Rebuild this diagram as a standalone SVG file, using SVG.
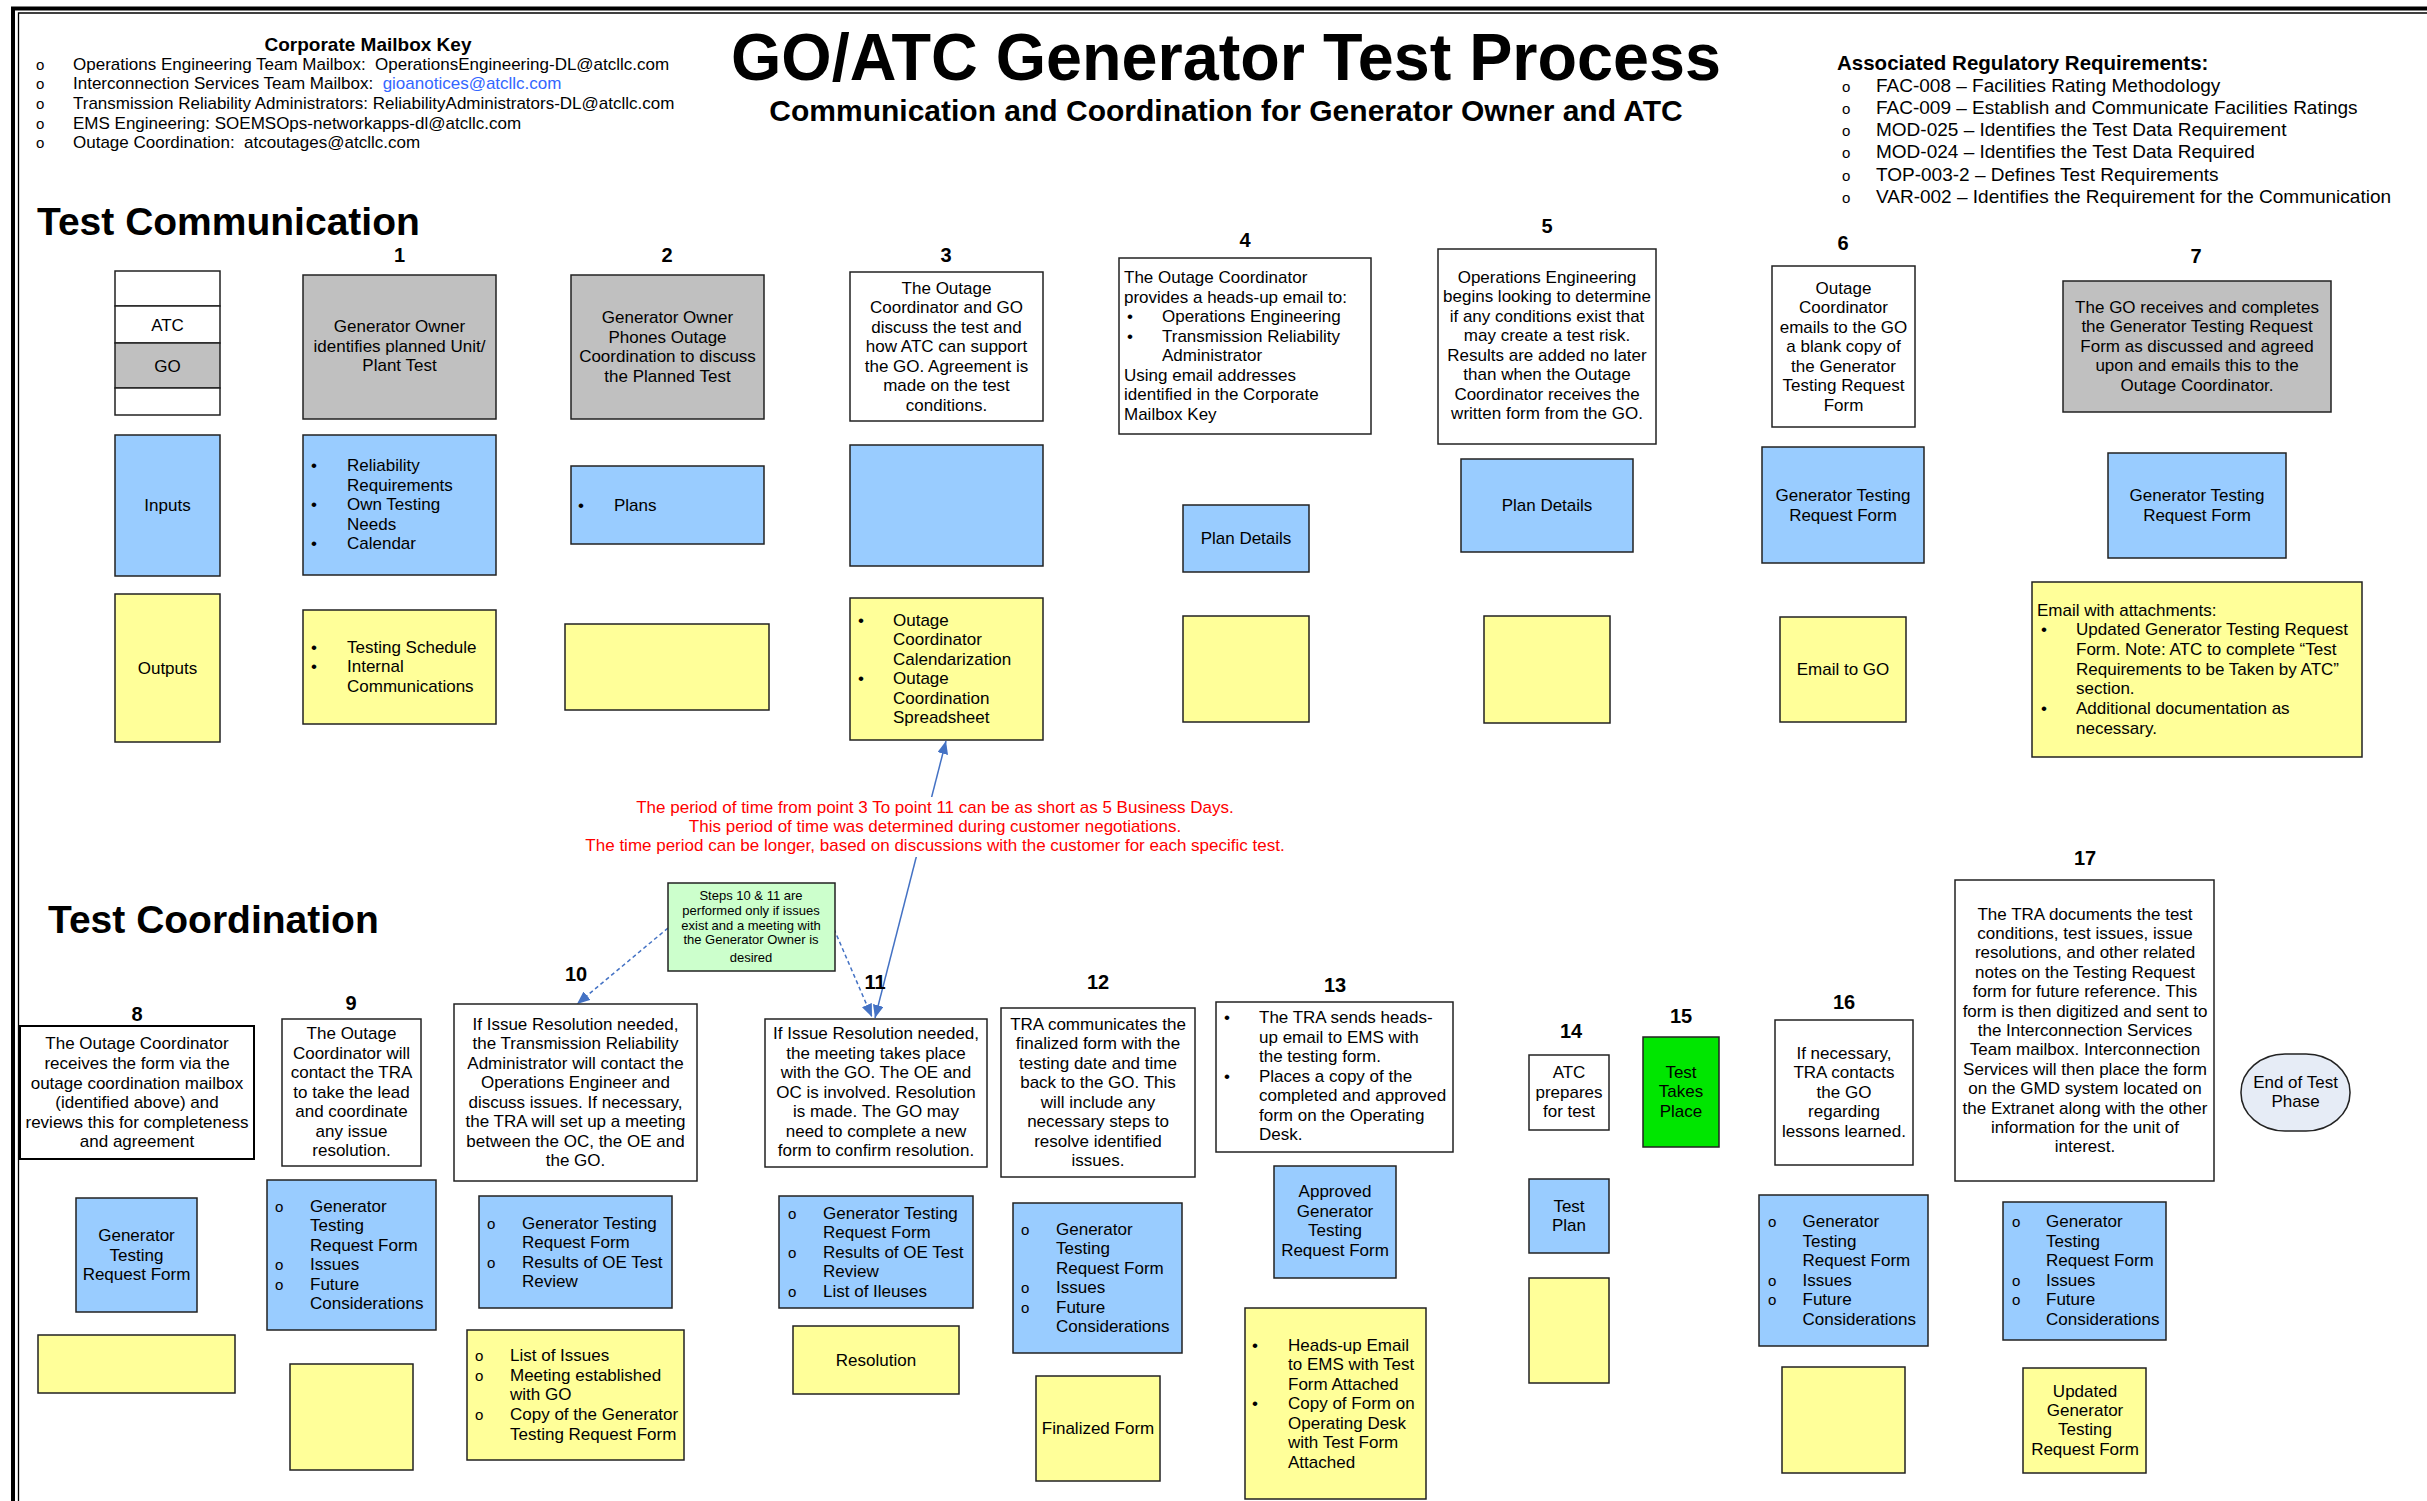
<svg xmlns="http://www.w3.org/2000/svg" width="2427" height="1501" viewBox="0 0 2427 1501">
<defs>
<style>
text{font-family:"Liberation Sans",Arial,Helvetica,sans-serif;font-size:17px;fill:#000}
.c{text-anchor:middle}
.n{font-weight:bold;font-size:20px;text-anchor:middle}
.o{font-size:15px}
.bx{stroke:#222;stroke-width:1.5}
.w{fill:#fff}.g{fill:#c0c0c0}.b{fill:#99ccff}.y{fill:#ffff99}
.h{font-weight:bold}
.red{fill:#ff0000}
.ln{stroke:#4472c4;stroke-width:1.5;fill:none}
</style>
<marker id="ah" viewBox="0 0 12 10" refX="12" refY="5" markerWidth="13" markerHeight="11" markerUnits="userSpaceOnUse" orient="auto-start-reverse"><path d="M0,0L12,5L0,10z" fill="#4472c4"/></marker>
</defs>
<rect width="2427" height="1501" fill="#fff"/>
<g id="frame" fill="none" stroke="#000">
<path d="M13,1501V8.5H2427" stroke-width="4"/>
<path d="M18.5,1501V13H2427" stroke-width="1.3"/>
</g>
<g id="header">
<text class="h c" x="368" y="51" font-size="19" style="font-size:19px">Corporate Mailbox Key</text>
<g class="o"><text class="o" x="36" y="69.5">o</text><text class="o" x="36" y="89.2">o</text><text class="o" x="36" y="108.9">o</text><text class="o" x="36" y="128.6">o</text><text class="o" x="36" y="148.3">o</text></g>
<text x="73" y="69.5" xml:space="preserve">Operations Engineering Team Mailbox:  OperationsEngineering-DL@atcllc.com</text>
<text x="73" y="89.2" xml:space="preserve">Interconnection Services Team Mailbox:  <tspan fill="#3366ff">gioanotices@atcllc.com</tspan></text>
<text x="73" y="108.9">Transmission Reliability Administrators: ReliabilityAdministrators-DL@atcllc.com</text>
<text x="73" y="128.6">EMS Engineering: SOEMSOps-networkapps-dl@atcllc.com</text>
<text x="73" y="148.3" xml:space="preserve">Outage Coordination:  atcoutages@atcllc.com</text>
<text class="h c" x="1226" y="80" style="font-size:66px" textLength="990" lengthAdjust="spacingAndGlyphs">GO/ATC Generator Test Process</text>
<text class="h c" x="1226" y="121" style="font-size:30px">Communication and Coordination for Generator Owner and ATC</text>
<text class="h" x="1837" y="69.5" style="font-size:20.5px">Associated Regulatory Requirements:</text>
<text class="o" x="1842" y="91.5">o</text><text class="o" x="1842" y="113.8">o</text><text class="o" x="1842" y="136.1">o</text><text class="o" x="1842" y="158.4">o</text><text class="o" x="1842" y="180.7">o</text><text class="o" x="1842" y="203">o</text>
<g style="font-size:19px">
<text x="1876" y="91.5" style="font-size:19px">FAC-008 – Facilities Rating Methodology</text>
<text x="1876" y="113.8" style="font-size:19px">FAC-009 – Establish and Communicate Facilities Ratings</text>
<text x="1876" y="136.1" style="font-size:19px">MOD-025 – Identifies the Test Data Requirement</text>
<text x="1876" y="158.4" style="font-size:19px">MOD-024 – Identifies the Test Data Required</text>
<text x="1876" y="180.7" style="font-size:19px">TOP-003-2 – Defines Test Requirements</text>
<text x="1876" y="203" style="font-size:19px">VAR-002 – Identifies the Requirement for the Communication</text>
</g>
<text class="h" x="37" y="235" style="font-size:39px">Test Communication</text>
<text class="h" x="48" y="933" style="font-size:39px">Test Coordination</text>
</g>

<g id="legend">
<rect class="bx w" x="115" y="271" width="105" height="35"/>
<rect class="bx w" x="115" y="306" width="105" height="37"/>
<rect class="bx g" x="115" y="343" width="105" height="45"/>
<rect class="bx w" x="115" y="388" width="105" height="27"/>
<text class="c" x="167.5" y="330.5">ATC</text>
<text class="c" x="167.5" y="371.5">GO</text>
</g>
<g id="inputs"><rect class="bx b" x="115" y="435" width="105" height="141"/><text class="c" x="167.5" y="511">Inputs</text></g>
<g id="outputs"><rect class="bx y" x="115" y="594" width="105" height="148"/><text class="c" x="167.5" y="674">Outputs</text></g>

<g id="step1">
<text class="n" x="399.5" y="262">1</text>
<rect class="bx g" x="303" y="275" width="193" height="144"/>
<text class="c"><tspan x="399.5" y="332">Generator Owner</tspan><tspan x="399.5" y="351.5">identifies planned Unit/</tspan><tspan x="399.5" y="371">Plant Test</tspan></text>
</g>
<g id="step1-in">
<rect class="bx b" x="303" y="435" width="193" height="140"/>
<text><tspan x="311" y="471">•</tspan><tspan x="347" y="471">Reliability</tspan><tspan x="347" y="490.5">Requirements</tspan><tspan x="311" y="510">•</tspan><tspan x="347" y="510">Own Testing</tspan><tspan x="347" y="529.5">Needs</tspan><tspan x="311" y="549">•</tspan><tspan x="347" y="549">Calendar</tspan></text>
</g>
<g id="step1-out">
<rect class="bx y" x="303" y="610" width="193" height="114"/>
<text><tspan x="311" y="652.5">•</tspan><tspan x="347" y="652.5">Testing Schedule</tspan><tspan x="311" y="672">•</tspan><tspan x="347" y="672">Internal</tspan><tspan x="347" y="691.5">Communications</tspan></text>
</g>

<g id="step2">
<text class="n" x="667" y="262">2</text>
<rect class="bx g" x="571" y="275" width="193" height="144"/>
<text class="c"><tspan x="667.5" y="323">Generator Owner</tspan><tspan x="667.5" y="342.5">Phones Outage</tspan><tspan x="667.5" y="362">Coordination to discuss</tspan><tspan x="667.5" y="381.5">the Planned Test</tspan></text>
</g>
<g id="step2-in"><rect class="bx b" x="571" y="466" width="193" height="78"/><text><tspan x="578" y="511">•</tspan><tspan x="614" y="511">Plans</tspan></text></g>
<g id="step2-out"><rect class="bx y" x="565" y="624" width="204" height="86"/></g>

<g id="step3">
<text class="n" x="946" y="262">3</text>
<rect class="bx w" x="850" y="272" width="193" height="149"/>
<text class="c"><tspan x="946.5" y="293.5">The Outage</tspan><tspan x="946.5" y="313">Coordinator and GO</tspan><tspan x="946.5" y="332.5">discuss the test and</tspan><tspan x="946.5" y="352">how ATC can support</tspan><tspan x="946.5" y="371.5">the GO.  Agreement is</tspan><tspan x="946.5" y="391">made on the test</tspan><tspan x="946.5" y="410.5">conditions.</tspan></text>
</g>
<g id="step3-in"><rect class="bx b" x="850" y="445" width="193" height="121"/></g>
<g id="step3-out">
<rect class="bx y" x="850" y="598" width="193" height="142"/>
<text><tspan x="858" y="625.5">•</tspan><tspan x="893" y="625.5">Outage</tspan><tspan x="893" y="645">Coordinator</tspan><tspan x="893" y="664.5">Calendarization</tspan><tspan x="858" y="684">•</tspan><tspan x="893" y="684">Outage</tspan><tspan x="893" y="703.5">Coordination</tspan><tspan x="893" y="723">Spreadsheet</tspan></text>
</g>

<g id="step4">
<text class="n" x="1245" y="247">4</text>
<rect class="bx w" x="1119" y="258" width="252" height="176"/>
<text><tspan x="1124" y="283">The Outage Coordinator</tspan><tspan x="1124" y="302.5">provides a heads-up email to:</tspan><tspan x="1127" y="322">•</tspan><tspan x="1162" y="322">Operations Engineering</tspan><tspan x="1127" y="341.5">•</tspan><tspan x="1162" y="341.5">Transmission Reliability</tspan><tspan x="1162" y="361">Administrator</tspan><tspan x="1124" y="380.5">Using email addresses</tspan><tspan x="1124" y="400">identified in the Corporate</tspan><tspan x="1124" y="419.5">Mailbox Key</tspan></text>
</g>
<g id="step4-in"><rect class="bx b" x="1183" y="505" width="126" height="67"/><text class="c" x="1246" y="544">Plan Details</text></g>
<g id="step4-out"><rect class="bx y" x="1183" y="616" width="126" height="106"/></g>

<g id="step5">
<text class="n" x="1547" y="233">5</text>
<rect class="bx w" x="1438" y="249" width="218" height="195"/>
<text class="c"><tspan x="1547" y="282.5">Operations Engineering</tspan><tspan x="1547" y="302">begins looking to determine</tspan><tspan x="1547" y="321.5">if any conditions exist that</tspan><tspan x="1547" y="341">may create a test risk.</tspan><tspan x="1547" y="360.5">Results are added no later</tspan><tspan x="1547" y="380">than when the Outage</tspan><tspan x="1547" y="399.5">Coordinator receives the</tspan><tspan x="1547" y="419">written form from the GO.</tspan></text>
</g>
<g id="step5-in"><rect class="bx b" x="1461" y="459" width="172" height="93"/><text class="c" x="1547" y="511">Plan Details</text></g>
<g id="step5-out"><rect class="bx y" x="1484" y="616" width="126" height="107"/></g>

<g id="step6">
<text class="n" x="1843" y="250">6</text>
<rect class="bx w" x="1772" y="266" width="143" height="161"/>
<text class="c"><tspan x="1843.5" y="293.5">Outage</tspan><tspan x="1843.5" y="313">Coordinator</tspan><tspan x="1843.5" y="332.5">emails to the GO</tspan><tspan x="1843.5" y="352">a blank copy of</tspan><tspan x="1843.5" y="371.5">the Generator</tspan><tspan x="1843.5" y="391">Testing Request</tspan><tspan x="1843.5" y="410.5">Form</tspan></text>
</g>
<g id="step6-in"><rect class="bx b" x="1762" y="447" width="162" height="116"/><text class="c"><tspan x="1843" y="500.5">Generator Testing</tspan><tspan x="1843" y="520.5">Request Form</tspan></text></g>
<g id="step6-out"><rect class="bx y" x="1780" y="617" width="126" height="105"/><text class="c" x="1843" y="674.5">Email to GO</text></g>

<g id="step7">
<text class="n" x="2196" y="263">7</text>
<rect class="bx g" x="2063" y="281" width="268" height="131"/>
<text class="c"><tspan x="2197" y="312.5">The GO receives and completes</tspan><tspan x="2197" y="332">the Generator Testing Request</tspan><tspan x="2197" y="351.5">Form as discussed and agreed</tspan><tspan x="2197" y="371">upon and emails this to the</tspan><tspan x="2197" y="390.5">Outage Coordinator.</tspan></text>
</g>
<g id="step7-in"><rect class="bx b" x="2108" y="453" width="178" height="105"/><text class="c"><tspan x="2197" y="500.5">Generator Testing</tspan><tspan x="2197" y="520.5">Request Form</tspan></text></g>
<g id="step7-out">
<rect class="bx y" x="2032" y="582" width="330" height="175"/>
<text><tspan x="2037" y="615.5">Email with attachments:</tspan><tspan x="2041" y="635">•</tspan><tspan x="2076" y="635">Updated Generator Testing Request</tspan><tspan x="2076" y="655">Form.  Note: ATC to complete “Test</tspan><tspan x="2076" y="674.5">Requirements to be Taken by ATC”</tspan><tspan x="2076" y="694">section.</tspan><tspan x="2041" y="713.5">•</tspan><tspan x="2076" y="713.5">Additional documentation as</tspan><tspan x="2076" y="733.5">necessary.</tspan></text>
</g>

<g id="connectors">
<line class="ln" x1="946" y1="741" x2="875" y2="1018" marker-start="url(#ah)" marker-end="url(#ah)"/>
<line class="ln" x1="668" y1="928" x2="577" y2="1004" stroke-dasharray="4,3" marker-end="url(#ah)"/>
<line class="ln" x1="834" y1="929" x2="872" y2="1017" stroke-dasharray="4,3" marker-end="url(#ah)"/>
</g>

<g id="note-period">
<rect x="578" y="797" width="716" height="60" fill="#fff"/>
<text class="c red"><tspan x="935" y="812.5">The period of time from point 3 To point 11 can be as short as 5 Business Days.</tspan><tspan x="935" y="832">This period of time was determined during customer negotiations.</tspan><tspan x="935" y="851">The time period can be longer, based on discussions with the customer for each specific test.</tspan></text>
</g>
<g id="note-steps">
<rect class="bx" x="668" y="883" width="167" height="88" fill="#ccffcc"/>
<text class="c" style="font-size:13px"><tspan x="751" y="899.5">Steps 10 &amp; 11 are</tspan><tspan x="751" y="914.5">performed only if issues</tspan><tspan x="751" y="929.5">exist and a meeting with</tspan><tspan x="751" y="943.5">the Generator Owner is</tspan><tspan x="751" y="961.5">desired</tspan></text>
</g>

<g id="step8">
<text class="n" x="137" y="1021">8</text>
<rect class="bx w" x="20" y="1026" width="234" height="133" style="stroke:#000;stroke-width:2"/>
<text class="c"><tspan x="137" y="1049">The Outage Coordinator</tspan><tspan x="137" y="1068.5">receives the form via the</tspan><tspan x="137" y="1088.5">outage coordination mailbox</tspan><tspan x="137" y="1107.5">(identified above) and</tspan><tspan x="137" y="1127.5">reviews this for completeness</tspan><tspan x="137" y="1146.5">and agreement</tspan></text>
</g>
<g id="step8-in"><rect class="bx b" x="76" y="1198" width="121" height="114"/><text class="c"><tspan x="136.5" y="1240.5">Generator</tspan><tspan x="136.5" y="1260.5">Testing</tspan><tspan x="136.5" y="1279.5">Request Form</tspan></text></g>
<g id="step8-out"><rect class="bx y" x="38" y="1335" width="197" height="58"/></g>

<g id="step9">
<text class="n" x="351" y="1010">9</text>
<rect class="bx w" x="282" y="1019" width="139" height="147"/>
<text class="c"><tspan x="351.5" y="1039">The Outage</tspan><tspan x="351.5" y="1058.5">Coordinator will</tspan><tspan x="351.5" y="1078">contact the TRA</tspan><tspan x="351.5" y="1097.5">to take the lead</tspan><tspan x="351.5" y="1117">and coordinate</tspan><tspan x="351.5" y="1136.5">any issue</tspan><tspan x="351.5" y="1156">resolution.</tspan></text>
</g>
<g id="step9-in">
<rect class="bx b" x="267" y="1180" width="169" height="150"/>
<text><tspan class="o" x="275" y="1211.5">o</tspan><tspan x="310" y="1211.5">Generator</tspan><tspan x="310" y="1231">Testing</tspan><tspan x="310" y="1250.5">Request Form</tspan><tspan class="o" x="275" y="1270">o</tspan><tspan x="310" y="1270">Issues</tspan><tspan class="o" x="275" y="1289.5">o</tspan><tspan x="310" y="1289.5">Future</tspan><tspan x="310" y="1309">Considerations</tspan></text>
</g>
<g id="step9-out"><rect class="bx y" x="290" y="1364" width="123" height="106"/></g>

<g id="step10">
<text class="n" x="576" y="981">10</text>
<rect class="bx w" x="454" y="1004" width="243" height="177"/>
<text class="c"><tspan x="575.5" y="1029.5">If Issue Resolution needed,</tspan><tspan x="575.5" y="1049">the Transmission Reliability</tspan><tspan x="575.5" y="1068.5">Administrator will contact the</tspan><tspan x="575.5" y="1088">Operations Engineer and</tspan><tspan x="575.5" y="1107.5">discuss issues.  If necessary,</tspan><tspan x="575.5" y="1127">the TRA will set up a meeting</tspan><tspan x="575.5" y="1146.5">between the OC, the OE and</tspan><tspan x="575.5" y="1166">the GO.</tspan></text>
</g>
<g id="step10-in">
<rect class="bx b" x="479" y="1196" width="193" height="112"/>
<text><tspan class="o" x="487" y="1228.5">o</tspan><tspan x="522" y="1228.5">Generator Testing</tspan><tspan x="522" y="1248">Request Form</tspan><tspan class="o" x="487" y="1267.5">o</tspan><tspan x="522" y="1267.5">Results of OE Test</tspan><tspan x="522" y="1287">Review</tspan></text>
</g>
<g id="step10-out">
<rect class="bx y" x="467" y="1330" width="217" height="130"/>
<text><tspan class="o" x="475" y="1360.5">o</tspan><tspan x="510" y="1360.5">List of Issues</tspan><tspan class="o" x="475" y="1380.5">o</tspan><tspan x="510" y="1380.5">Meeting established</tspan><tspan x="510" y="1400">with GO</tspan><tspan class="o" x="475" y="1420">o</tspan><tspan x="510" y="1420">Copy of the Generator</tspan><tspan x="510" y="1439.5">Testing Request Form</tspan></text>
</g>

<g id="step11">
<text class="n" x="875" y="989">11</text>
<rect class="bx w" x="765" y="1019" width="222" height="148"/>
<text class="c"><tspan x="876" y="1039">If Issue Resolution needed,</tspan><tspan x="876" y="1058.5">the meeting takes place</tspan><tspan x="876" y="1078">with the GO.  The OE and</tspan><tspan x="876" y="1097.5">OC is involved.  Resolution</tspan><tspan x="876" y="1117">is made.  The GO may</tspan><tspan x="876" y="1136.5">need to complete a new</tspan><tspan x="876" y="1156">form to confirm resolution.</tspan></text>
</g>
<g id="step11-in">
<rect class="bx b" x="779" y="1196" width="194" height="112"/>
<text><tspan class="o" x="788" y="1218.5">o</tspan><tspan x="823" y="1218.5">Generator Testing</tspan><tspan x="823" y="1238">Request Form</tspan><tspan class="o" x="788" y="1257.5">o</tspan><tspan x="823" y="1257.5">Results of OE Test</tspan><tspan x="823" y="1277">Review</tspan><tspan class="o" x="788" y="1296.5">o</tspan><tspan x="823" y="1296.5">List of Ileuses</tspan></text>
</g>
<g id="step11-out"><rect class="bx y" x="793" y="1326" width="166" height="68"/><text class="c" x="876" y="1366">Resolution</text></g>

<g id="step12">
<text class="n" x="1098" y="989">12</text>
<rect class="bx w" x="1001" y="1008" width="194" height="169"/>
<text class="c"><tspan x="1098" y="1029.5">TRA communicates the</tspan><tspan x="1098" y="1049">finalized form with the</tspan><tspan x="1098" y="1068.5">testing date and time</tspan><tspan x="1098" y="1088">back to the GO.  This</tspan><tspan x="1098" y="1107.5">will include any</tspan><tspan x="1098" y="1127">necessary steps to</tspan><tspan x="1098" y="1146.5">resolve identified</tspan><tspan x="1098" y="1166">issues.</tspan></text>
</g>
<g id="step12-in">
<rect class="bx b" x="1013" y="1203" width="169" height="150"/>
<text><tspan class="o" x="1021" y="1234.5">o</tspan><tspan x="1056" y="1234.5">Generator</tspan><tspan x="1056" y="1254">Testing</tspan><tspan x="1056" y="1273.5">Request Form</tspan><tspan class="o" x="1021" y="1293">o</tspan><tspan x="1056" y="1293">Issues</tspan><tspan class="o" x="1021" y="1312.5">o</tspan><tspan x="1056" y="1312.5">Future</tspan><tspan x="1056" y="1332">Considerations</tspan></text>
</g>
<g id="step12-out"><rect class="bx y" x="1036" y="1376" width="124" height="105"/><text class="c" x="1098" y="1434">Finalized Form</text></g>

<g id="step13">
<text class="n" x="1335" y="992">13</text>
<rect class="bx w" x="1216" y="1002" width="237" height="150"/>
<text><tspan x="1224" y="1023">•</tspan><tspan x="1259" y="1023">The TRA  sends heads-</tspan><tspan x="1259" y="1042.5">up email to EMS with</tspan><tspan x="1259" y="1062">the testing form.</tspan><tspan x="1224" y="1081.5">•</tspan><tspan x="1259" y="1081.5">Places a copy of the</tspan><tspan x="1259" y="1101">completed and approved</tspan><tspan x="1259" y="1120.5">form on the Operating</tspan><tspan x="1259" y="1140">Desk.</tspan></text>
</g>
<g id="step13-in"><rect class="bx b" x="1274" y="1166" width="122" height="112"/><text class="c"><tspan x="1335" y="1197">Approved</tspan><tspan x="1335" y="1216.5">Generator</tspan><tspan x="1335" y="1236">Testing</tspan><tspan x="1335" y="1255.5">Request Form</tspan></text></g>
<g id="step13-out">
<rect class="bx y" x="1245" y="1308" width="181" height="191"/>
<text><tspan x="1252" y="1350.5">•</tspan><tspan x="1288" y="1350.5">Heads-up Email</tspan><tspan x="1288" y="1370">to EMS with Test</tspan><tspan x="1288" y="1389.5">Form Attached</tspan><tspan x="1252" y="1409">•</tspan><tspan x="1288" y="1409">Copy of Form on</tspan><tspan x="1288" y="1428.5">Operating Desk</tspan><tspan x="1288" y="1448">with Test Form</tspan><tspan x="1288" y="1467.5">Attached</tspan></text>
</g>

<g id="step14">
<text class="n" x="1571" y="1038">14</text>
<rect class="bx w" x="1529" y="1055" width="80" height="75"/>
<text class="c"><tspan x="1569" y="1078">ATC</tspan><tspan x="1569" y="1097.5">prepares</tspan><tspan x="1569" y="1117">for test</tspan></text>
</g>
<g id="step14-in"><rect class="bx b" x="1529" y="1179" width="80" height="74"/><text class="c"><tspan x="1569" y="1211.5">Test</tspan><tspan x="1569" y="1230.5">Plan</tspan></text></g>
<g id="step14-out"><rect class="bx y" x="1529" y="1278" width="80" height="105"/></g>

<g id="step15">
<text class="n" x="1681" y="1023">15</text>
<rect class="bx" x="1643" y="1037" width="76" height="110" fill="#00e600"/>
<text class="c"><tspan x="1681" y="1077.5">Test</tspan><tspan x="1681" y="1097">Takes</tspan><tspan x="1681" y="1116.5">Place</tspan></text>
</g>

<g id="step16">
<text class="n" x="1844" y="1008.5">16</text>
<rect class="bx w" x="1775" y="1020" width="138" height="145"/>
<text class="c"><tspan x="1844" y="1058.5">If necessary,</tspan><tspan x="1844" y="1078">TRA contacts</tspan><tspan x="1844" y="1097.5">the GO</tspan><tspan x="1844" y="1117">regarding</tspan><tspan x="1844" y="1136.5">lessons learned.</tspan></text>
</g>
<g id="step16-in">
<rect class="bx b" x="1759" y="1195" width="169" height="151"/>
<text><tspan class="o" x="1768" y="1227">o</tspan><tspan x="1802.5" y="1227">Generator</tspan><tspan x="1802.5" y="1246.5">Testing</tspan><tspan x="1802.5" y="1266">Request Form</tspan><tspan class="o" x="1768" y="1285.5">o</tspan><tspan x="1802.5" y="1285.5">Issues</tspan><tspan class="o" x="1768" y="1305">o</tspan><tspan x="1802.5" y="1305">Future</tspan><tspan x="1802.5" y="1324.5">Considerations</tspan></text>
</g>
<g id="step16-out"><rect class="bx y" x="1782" y="1367" width="123" height="106"/></g>

<g id="step17">
<text class="n" x="2085" y="865">17</text>
<rect class="bx w" x="1955" y="880" width="259" height="301"/>
<text class="c"><tspan x="2085" y="919.5">The TRA documents the test</tspan><tspan x="2085" y="938.9">conditions, test issues, issue</tspan><tspan x="2085" y="958.3">resolutions, and other related</tspan><tspan x="2085" y="977.7">notes on the Testing Request</tspan><tspan x="2085" y="997.1">form for future reference. This</tspan><tspan x="2085" y="1016.5">form is then digitized and sent to</tspan><tspan x="2085" y="1035.9">the Interconnection Services</tspan><tspan x="2085" y="1055.3">Team mailbox. Interconnection</tspan><tspan x="2085" y="1074.7">Services will then place the form</tspan><tspan x="2085" y="1094.1">on the GMD system located on</tspan><tspan x="2085" y="1113.5">the Extranet along with the other</tspan><tspan x="2085" y="1132.9">information for the unit of</tspan><tspan x="2085" y="1152.3">interest.</tspan></text>
</g>
<g id="step17-in">
<rect class="bx b" x="2003" y="1202" width="163" height="138"/>
<text><tspan class="o" x="2012" y="1227">o</tspan><tspan x="2046" y="1227">Generator</tspan><tspan x="2046" y="1246.5">Testing</tspan><tspan x="2046" y="1266">Request Form</tspan><tspan class="o" x="2012" y="1285.5">o</tspan><tspan x="2046" y="1285.5">Issues</tspan><tspan class="o" x="2012" y="1305">o</tspan><tspan x="2046" y="1305">Future</tspan><tspan x="2046" y="1324.5">Considerations</tspan></text>
</g>
<g id="step17-out"><rect class="bx y" x="2023" y="1368" width="123" height="105"/><text class="c"><tspan x="2085" y="1397">Updated</tspan><tspan x="2085" y="1416">Generator</tspan><tspan x="2085" y="1435">Testing</tspan><tspan x="2085" y="1455">Request Form</tspan></text></g>

<g id="end">
<rect class="bx" x="2241" y="1054" width="109" height="77" rx="44" ry="38" fill="#e6ecf6"/>
<text class="c"><tspan x="2295.5" y="1088">End of Test</tspan><tspan x="2295.5" y="1107">Phase</tspan></text>
</g>
</svg>
